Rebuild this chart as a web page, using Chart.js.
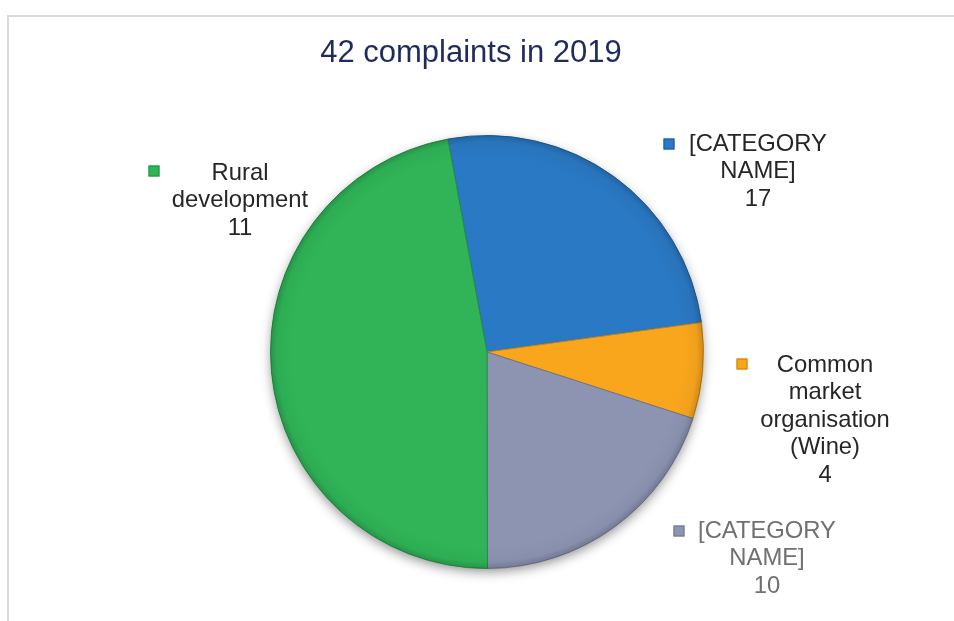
<!DOCTYPE html>
<html>
<head>
<meta charset="utf-8">
<script src="https://cdn.jsdelivr.net/npm/chart.js@4.4.0/dist/chart.umd.min.js"></script>
<style>
  html, body { margin: 0; padding: 0; background: #ffffff; }
  #wrap { position: relative; width: 954px; height: 621px; overflow: hidden; }
  #frame { position: absolute; left: 7px; top: 15px; width: 960px; height: 640px; border-left: 2px solid #d9d9d9; border-top: 2px solid #d9d9d9; box-sizing: border-box; }
  canvas { position: absolute; left: 0; top: 0; }
</style>
</head>
<body>
<div id="wrap">
  <div id="frame"></div>
  <canvas id="c" width="954" height="621"></canvas>
</div>
<script>
// ---- data ----
const chartTitle = "42 complaints in 2019";
// categories as printed on the chart (placeholders kept as printed)
const categories = [
  ["[CATEGORY", "NAME]"],
  ["Common", "market", "organisation", "(Wine)"],
  ["[CATEGORY", "NAME]"],
  ["Rural", "development"]
];
// numbers printed in the data labels
const labelValues = [17, 4, 10, 11];
// slice sizes as drawn in the picture (measured angles: ~92°, ~25°, ~72°, ~170°)
const sliceValues = [10.8, 3, 8.4, 19.8];
const sliceColors = ["#2a79c4", "#f9a61c", "#8c94b2", "#30b457"];
const sliceBorders = ["#1f5f9e", "#c98210", "#6e7590", "#23904a"];
const labelColors = ["#262626", "#262626", "#707070", "#262626"];

// label placement (offsets from the pie centre), not data
const labelLayout = [
  { key: [182, -208], text: 271, firstLine: -208 },
  { key: [255, 12],  text: 338, firstLine: 13 },
  { key: [192, 179], text: 280, firstLine: 179 },
  { key: [-333, -181], text: -247, firstLine: -179 }
];

const FONT = '"Liberation Sans", Arial, sans-serif';

const decorPlugin = {
  id: 'decor',
  beforeDatasetsDraw(chart) {
    const arc = chart.getDatasetMeta(0).data[0];
    if (!arc) return;
    const ctx = chart.ctx;
    ctx.save();
    ctx.shadowColor = 'rgba(0,0,0,0.45)';
    ctx.shadowBlur = 12;
    ctx.shadowOffsetX = 0;
    ctx.shadowOffsetY = 4;
    ctx.fillStyle = '#888';
    ctx.beginPath();
    ctx.arc(arc.x, arc.y, arc.outerRadius - 1, 0, Math.PI * 2);
    ctx.fill();
    ctx.restore();
  },
  afterDatasetsDraw(chart) {
    const arc = chart.getDatasetMeta(0).data[0];
    if (!arc) return;
    const ctx = chart.ctx;
    const r = arc.outerRadius;
    ctx.save();
    const g = ctx.createRadialGradient(arc.x, arc.y, r * 0.9, arc.x, arc.y, r);
    g.addColorStop(0, 'rgba(0,0,0,0)');
    g.addColorStop(0.7, 'rgba(0,0,0,0.04)');
    g.addColorStop(1, 'rgba(0,0,0,0.18)');
    ctx.fillStyle = g;
    ctx.beginPath();
    ctx.arc(arc.x, arc.y, r, 0, Math.PI * 2);
    ctx.fill();
    ctx.restore();
  },
  afterDraw(chart) {
    const meta = chart.getDatasetMeta(0);
    const arc = meta.data[0];
    if (!arc) return;
    const cx = arc.x, cy = arc.y;
    const ctx = chart.ctx;
    ctx.save();
    // title
    ctx.fillStyle = '#1f2a5e';
    ctx.font = '31px ' + FONT;
    ctx.textAlign = 'center';
    ctx.textBaseline = 'middle';
    ctx.fillText(chartTitle, cx - 16, 53);
    // labels
    ctx.font = '23.8px ' + FONT;
    const lh = 27.6;
    categories.forEach((cat, i) => {
      const L = labelLayout[i];
      const lines = cat.concat([String(labelValues[i])]);
      ctx.fillStyle = labelColors[i];
      lines.forEach((ln, j) => {
        ctx.fillText(ln, cx + L.text, cy + L.firstLine + j * lh);
      });
      // legend key square
      const kx = cx + L.key[0], ky = cy + L.key[1];
      const s = 11;
      ctx.fillStyle = sliceColors[i];
      ctx.fillRect(kx - s / 2, ky - s / 2, s, s);
      ctx.strokeStyle = sliceBorders[i];
      ctx.lineWidth = 1;
      ctx.strokeRect(kx - s / 2 + 0.5, ky - s / 2 + 0.5, s - 1, s - 1);
    });
    ctx.restore();
  }
};

new Chart(document.getElementById('c'), {
  type: 'pie',
  data: {
    labels: categories.map(c => c.join(' ')),
    datasets: [{
      data: sliceValues,
      backgroundColor: sliceColors,
      borderColor: sliceBorders,
      borderWidth: 1
    }]
  },
  options: {
    responsive: false,
    animation: false,
    rotation: -10.4,
    layout: { padding: { left: 270, right: 250, top: 135, bottom: 52 } },
    plugins: {
      legend: { display: false },
      title: { display: false },
      tooltip: { enabled: false }
    }
  },
  plugins: [decorPlugin]
});
</script>
</body>
</html>
